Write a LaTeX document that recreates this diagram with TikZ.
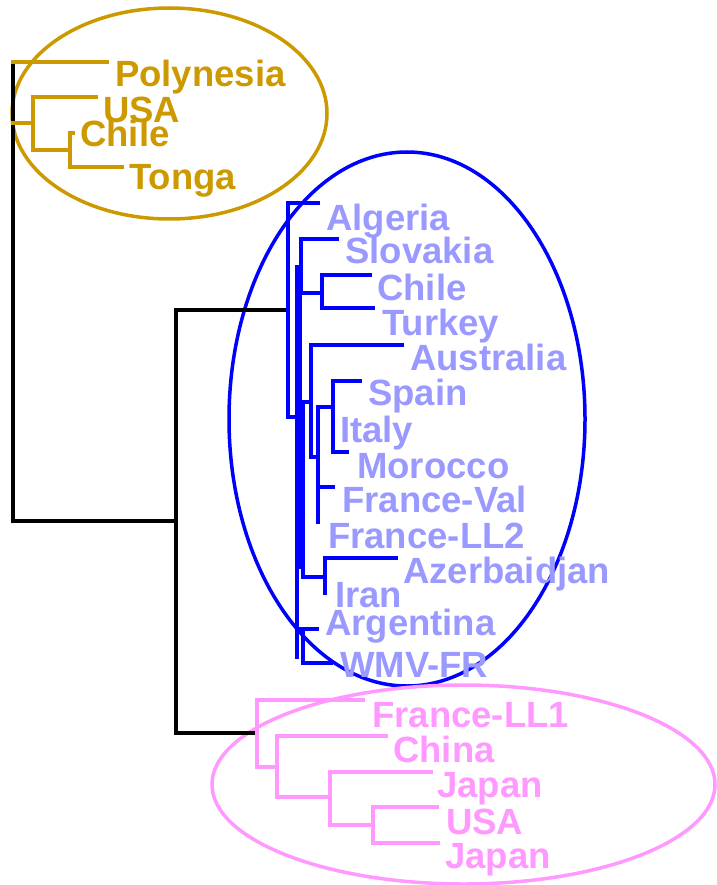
\documentclass[tikz,border=0pt]{standalone}
\usepackage{fontspec}
\setmainfont{Liberation Sans}
\definecolor{gold}{RGB}{204,153,0}
\definecolor{lblue}{RGB}{153,153,255}
\definecolor{pinky}{RGB}{255,153,255}
\definecolor{dblue}{RGB}{0,0,255}
\tikzset{
  br/.style={line width=4pt, line cap=rect},
  goldbr/.style={br, draw=gold},
  bluebr/.style={br, draw=dblue},
  pinkbr/.style={br, draw=pinky},
  blackbr/.style={br, draw=black},
  lab/.style={anchor=base west, inner sep=0pt, font=\fontsize{36.5}{36.5}\selectfont\bfseries},
  goldlab/.style={lab, text=gold},
  bluelab/.style={lab, text=lblue},
  pinklab/.style={lab, text=pinky},
  ring/.style={line width=3.5pt}
}
\begin{document}
\begin{tikzpicture}[x=1pt,y=-1pt]
\useasboundingbox (0,0) rectangle (716,885);

% ---------- ellipses ----------
\coordinate (cg) at (169.5,113.5);
\coordinate (cb) at (407,419);
\coordinate (cp) at (463.5,784.5);
\draw[ring, gold] (cg) ellipse [x radius=157.5, y radius=105.5];
\draw[ring, dblue] (cb) ellipse [x radius=178, y radius=267];
\draw[ring, pinky] (cp) ellipse [x radius=251.5, y radius=99.5];

% ---------- black backbone ----------
\coordinate (rtop) at (13,62);
\coordinate (root) at (13,521);
\coordinate (n1) at (176,521);
\coordinate (n1t) at (176,310);
\coordinate (n1b) at (176,733);
\coordinate (b0) at (288,310);
\coordinate (p0) at (257,733);
\draw[blackbr] (rtop) -- (root) -- (n1);
\draw[blackbr] (n1t) -- (n1b);
\draw[blackbr] (n1t) -- (b0);
\draw[blackbr] (n1b) -- (p0);

% ---------- gold tree ----------
\coordinate (gP) at (107,62);
\coordinate (gjoin) at (13,123);
\coordinate (gn1) at (33,123);
\coordinate (gU) at (96,97);
\coordinate (gn2) at (70,150);
\coordinate (gC) at (73,133);
\coordinate (gT) at (122,167);
\draw[goldbr] (rtop) -- (gP);
\draw[goldbr] (gjoin) -- (gn1);
\draw[goldbr] (gn1) |- (gU);
\draw[goldbr] (gn1) |- (gn2);
\draw[goldbr] (gn2) |- (gC);
\draw[goldbr] (gn2) |- (gT);

\node[goldlab] (lPol) at (115,87) {Polynesia};
\node[goldlab] (lUSA) at (103,123) {USA};
\node[goldlab] (lChi) at (80,147) {Chile};
\node[goldlab] (lTon) at (129,190) {Tonga};

% ---------- blue tree ----------
\coordinate (bAlg) at (318,203);
\coordinate (bx1) at (297,417);
\draw[bluebr] (b0) |- (bAlg);
\draw[bluebr] (b0) |- (bx1);
% main spines
\coordinate (sp1t) at (297,267);
\coordinate (sp1b) at (297,657);
\coordinate (sp2t) at (300,267);
\coordinate (sp2b) at (300,567);
\draw[bluebr] (sp1t) -- (sp1b);
\draw[bluebr] (sp2t) -- (sp2b);
% Slovakia / Chile / Turkey
\coordinate (s0) at (301,293);
\coordinate (sSlo) at (337,239);
\coordinate (s1) at (322,293);
\coordinate (sChi) at (370,275);
\coordinate (sTur) at (373,308);
\draw[bluebr] (s0) |- (sSlo);
\draw[bluebr] (s0) -- (s1);
\draw[bluebr] (s1) |- (sChi);
\draw[bluebr] (s1) |- (sTur);
% Australia clade
\coordinate (a0) at (303,402);
\coordinate (a1) at (311,402);
\coordinate (aAus) at (402,345);
\coordinate (a1b) at (311,457);
\coordinate (a2) at (318,457);
\coordinate (a2t) at (318,407);
\coordinate (a2b) at (318,522);
\coordinate (a3) at (333,407);
\coordinate (aSpa) at (360,381);
\coordinate (aIta) at (347,452);
\coordinate (aFV) at (333,487);
\draw[bluebr] (a0) -- (a1);
\draw[bluebr] (a1) |- (aAus);
\draw[bluebr] (a1) -- (a1b) -- (a2);
\draw[bluebr] (a2t) -- (a2b);
\draw[bluebr] (a2t) -- (a3);
\draw[bluebr] (a3) |- (aSpa);
\draw[bluebr] (a3) |- (aIta);
\draw[bluebr] (a2b |- aFV) -- (aFV);
% Azerbaidjan / Iran
\coordinate (z0) at (303,577);
\coordinate (z1) at (325,577);
\coordinate (zAze) at (396,558);
\coordinate (zIra) at (325,593);
\draw[bluebr] (a0) -- (z0) -- (z1);
\draw[bluebr] (z1) |- (zAze);
\draw[bluebr] (z1) -- (zIra);
% Argentina / WMV-FR
\coordinate (w0) at (300,629);
\coordinate (wArg) at (317,629);
\coordinate (w1) at (303,629);
\coordinate (wWMV) at (331,663);
\draw[bluebr] (w0) -- (wArg);
\draw[bluebr] (w1) |- (wWMV);

\node[bluelab] (lAlg) at (326,230) {Algeria};
\node[bluelab] (lSlo) at (345,263) {Slovakia};
\node[bluelab] (lChl) at (377,300) {Chile};
\node[bluelab] (lTur) at (382,335) {Turkey};
\node[bluelab] (lAus) at (410,370) {Australia};
\node[bluelab] (lSpa) at (368,405) {Spain};
\node[bluelab] (lIta) at (340,442) {Italy};
\node[bluelab] (lMor) at (357,478) {Morocco};
\node[bluelab] (lFV)  at (342,512) {France-Val};
\node[bluelab] (lFL2) at (328,548) {France-LL2};
\node[bluelab] (lAze) at (403,583) {Azerbaidjan};
\node[bluelab] (lIra) at (335,607) {Iran};
\node[bluelab] (lArg) at (325,635) {Argentina};
\node[bluelab] (lWMV) at (340,677) {WMV-FR};

% ---------- pink tree ----------
\coordinate (pF) at (363,700);
\coordinate (p1) at (277,767);
\coordinate (pCh) at (386,736);
\coordinate (p2) at (330,797);
\coordinate (pJ1) at (431,772);
\coordinate (p3) at (373,825);
\coordinate (pU) at (437,807);
\coordinate (pJ2) at (438,843);
\draw[pinkbr] (p0) |- (pF);
\draw[pinkbr] (p0) |- (p1);
\draw[pinkbr] (p1) |- (pCh);
\draw[pinkbr] (p1) |- (p2);
\draw[pinkbr] (p2) |- (pJ1);
\draw[pinkbr] (p2) |- (p3);
\draw[pinkbr] (p3) |- (pU);
\draw[pinkbr] (p3) |- (pJ2);

\node[pinklab] (lFL1) at (372,727) {France-LL1};
\node[pinklab] (lChn) at (393,762) {China};
\node[pinklab] (lJp1) at (437,797) {Japan};
\node[pinklab] (lUS2) at (446,834) {USA};
\node[pinklab] (lJp2) at (445,868) {Japan};
\end{tikzpicture}
\end{document}
